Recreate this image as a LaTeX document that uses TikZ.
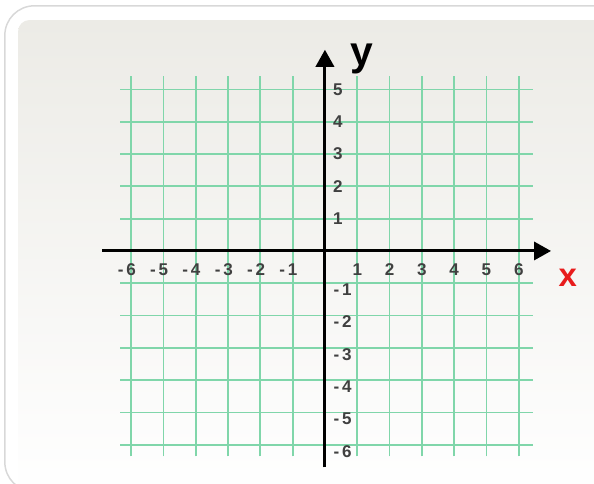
\documentclass[tikz,border=0pt]{standalone}
\usepackage{fontspec}
\setmainfont{Liberation Sans}
\usetikzlibrary{arrows.meta}

\definecolor{gridgreen}{RGB}{128,214,170}
\definecolor{panelgray}{RGB}{236,235,230}
\definecolor{framegray}{RGB}{216,216,216}
\definecolor{labelred}{RGB}{232,28,28}

\begin{document}
\begin{tikzpicture}
\def\gl{-6.33}
\def\gr{6.43}
\def\gb{-6.36}
\def\gt{5.42}
\tikzset{
  gridline/.style={gridgreen, line width=1.6pt},
  axisline/.style={line width=2.6pt, -{Triangle[length=15pt,width=16pt]}},
  num/.style={font=\bfseries\fontsize{15}{15}\selectfont, text=black!75, inner sep=0pt},
}

\useasboundingbox (-10.06,-7.21) rectangle (8.33,7.77);

% frame and panel
\draw[framegray, line width=1.3pt, rounded corners=26pt] (-9.91,-7.45) rectangle (9.2,7.59);
\shade[top color=panelgray, bottom color=white, rounded corners=10pt] (-9.50,-7.6) rectangle (9.0,7.15);

% grid
\foreach \k in {-6,...,-1,1,2,...,5}
  \draw[gridline] (\gl,\k) -- (\gr,\k);
\foreach \k in {-6,...,-1,1,2,...,6}
  \draw[gridline] (\k,\gb) -- (\k,\gt);

% axes
\coordinate (xs) at (-6.9,0);
\coordinate (xe) at (7.0,0);
\coordinate (ys) at (0,-6.7);
\coordinate (ye) at (0,6.23);
\draw[axisline] (xs) -- (xe);
\draw[axisline] (ys) -- (ye);

% numbers
\foreach \k in {1,...,6} {
  \node[num] (xp\k) at (\k,-0.59) {\k};
  \node[num] (xn\k) at (-\k,-0.59) {\llap{-\,}\k};
  \node[num] (yn\k) at (0.68,{-\k-0.2}) {\llap{-\,}\k};
}
\foreach \k in {1,...,5}
  \node[num] (yp\k) at (0.40,\k) {\k};

\node[font=\bfseries\fontsize{36}{36}\selectfont, inner sep=0pt, anchor=base] (ylab) at (1.15,5.73) {y};
\node[font=\bfseries\fontsize{29}{29}\selectfont, text=labelred, inner sep=0pt, anchor=base] (xlab) at (7.52,-1.11) {x};
\end{tikzpicture}
\end{document}
